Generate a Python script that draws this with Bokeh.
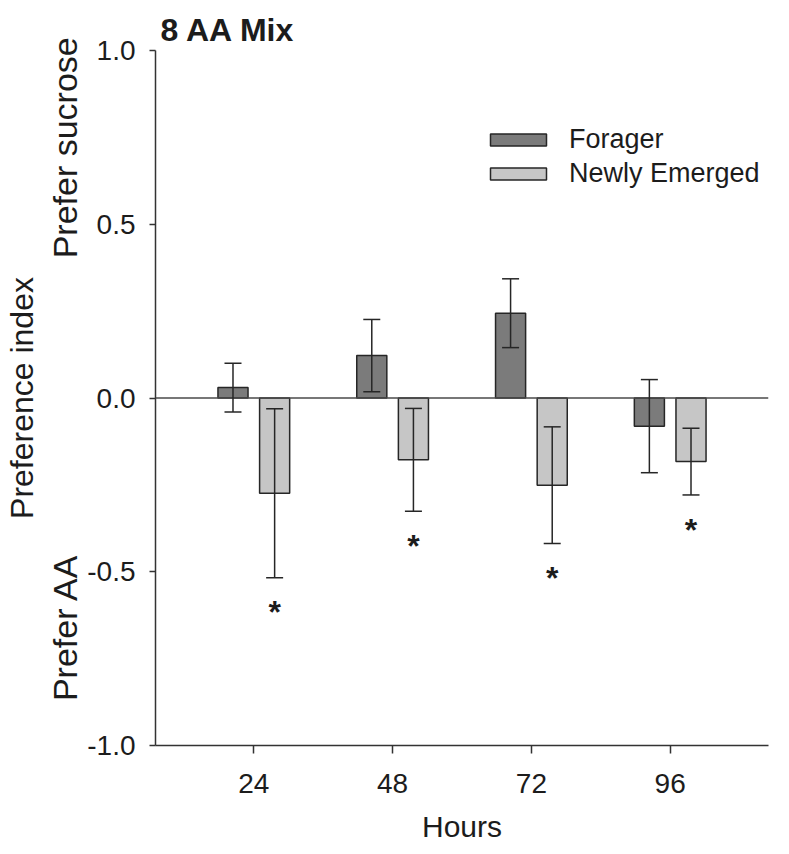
from bokeh.embed import file_html
from bokeh.models import (ColumnDataSource, FixedTicker, Legend, LegendItem, LinearAxis,
                          Range1d, Span, TeeHead, Whisker)
from bokeh.core.properties import value
from bokeh.plotting import figure
from bokeh.resources import INLINE

# Preference index per time point (mean +/- SE)
hours = [24, 48, 72, 96]
forager_mean = [0.03, 0.122, 0.244, -0.081]
forager_se = [0.07, 0.104, 0.099, 0.134]
newly_mean = [-0.274, -0.178, -0.251, -0.183]
newly_se = [0.243, 0.148, 0.168, 0.096]
newly_significant = [True, True, True, True]

y_ticks = [-1.0, -0.5, 0.0, 0.5, 1.0]
y_tick_labels = ["-1.0", "-0.5", "0.0", "0.5", "1.0"]

# side captions for the two ends of the preference scale
side_caption_pos = [0.72, -0.66]
side_captions = ["Prefer sucrose", "Prefer AA"]

FONT = "Liberation Sans"
TEXT = "#1c1c1c"
AXIS = "#333333"
BAR_W = 5.2
DODGE = 3.6

def series_source(means, ses, shift):
    return ColumnDataSource(dict(
        x=[h + shift for h in hours],
        top=means,
        upper=[m + s for m, s in zip(means, ses)],
        lower=[m - s for m, s in zip(means, ses)],
    ))

src_f = series_source(forager_mean, forager_se, -DODGE)
src_n = series_source(newly_mean, newly_se, DODGE)

p = figure(width=789, height=854, output_backend="svg", toolbar_location=None,
           title="8 AA Mix",
           x_range=Range1d(7, 113), y_range=Range1d(-1.0, 1.0),
           min_border_left=155, min_border_right=21, min_border_top=50,
           min_border_bottom=109)
p.frame_width = 613
p.frame_height = 695
p.outline_line_color = None
p.background_fill_color = "white"
p.xgrid.visible = False
p.ygrid.visible = False

p.title.align = "left"
p.title.offset = 5
p.title.standoff = 6
p.title.text_font = FONT
p.title.text_font_size = "32px"
p.title.text_font_style = "bold"
p.title.text_color = TEXT

# zero reference line
p.add_layout(Span(location=0, dimension="width", line_color="#4a4a4a", line_width=1.5))

r_f = p.vbar(x="x", top="top", bottom=0, width=BAR_W, source=src_f,
             fill_color="#7b7b7b", line_color="#262626", line_width=1.5)
r_n = p.vbar(x="x", top="top", bottom=0, width=BAR_W, source=src_n,
             fill_color="#c6c6c6", line_color="#262626", line_width=1.5)

for src in (src_f, src_n):
    p.add_layout(Whisker(
        base="x", upper="upper", lower="lower", source=src, dimension="height",
        line_color="#262626", line_width=1.5, level="overlay",
        upper_head=TeeHead(size=17, line_color="#262626", line_width=1.5),
        lower_head=TeeHead(size=17, line_color="#262626", line_width=1.5)))

# significance markers under the newly emerged bars
star_x = [h + DODGE for h, s in zip(hours, newly_significant) if s]
star_y = [m - s - 0.1 for m, s, sig in zip(newly_mean, newly_se, newly_significant) if sig]
p.text(x=star_x, y=star_y, text=["*"] * len(star_x), text_font=value(FONT),
       text_font_size="32px", text_font_style="bold", text_color=TEXT,
       text_align="center", text_baseline="middle")

# axes
p.yaxis.ticker = FixedTicker(ticks=y_ticks)
p.yaxis.major_label_overrides = {t: l for t, l in zip(y_ticks, y_tick_labels)}
p.xaxis.ticker = FixedTicker(ticks=hours)
p.xaxis.major_label_overrides = {h: str(h) for h in hours}
for ax in (p.xaxis[0], p.yaxis[0]):
    ax.axis_line_color = AXIS
    ax.axis_line_width = 1.5
    ax.major_tick_line_color = AXIS
    ax.major_tick_line_width = 1.5
    ax.major_tick_in = 0
    ax.minor_tick_line_color = None
    ax.major_label_text_font = FONT
    ax.major_label_text_font_size = "28px"
    ax.major_label_text_color = TEXT
p.yaxis.major_tick_out = 6
p.yaxis.major_label_standoff = 14
p.xaxis.major_tick_out = 8
p.xaxis.major_label_standoff = 20
p.xaxis.axis_label = "Hours"
p.xaxis.axis_label_text_font = FONT
p.xaxis.axis_label_text_font_size = "30px"
p.xaxis.axis_label_text_font_style = "normal"
p.xaxis.axis_label_text_color = TEXT
p.xaxis.axis_label_standoff = 14

# outer left axis carrying the scale-end captions and the axis title
caption_axis = LinearAxis(
    ticker=FixedTicker(ticks=side_caption_pos),
    major_label_overrides=dict(zip(side_caption_pos, side_captions)),
    major_label_orientation="parallel",
    axis_line_color=None, major_tick_line_color=None, minor_tick_line_color=None,
    major_tick_in=0, major_tick_out=0, major_label_standoff=0,
    major_label_text_font=FONT, major_label_text_font_size="34px",
    major_label_text_color=TEXT,
    axis_label="Preference index", axis_label_standoff=4,
    axis_label_text_font=FONT, axis_label_text_font_size="32px",
    axis_label_text_font_style="normal", axis_label_text_color=TEXT)
p.add_layout(caption_axis, "left")

legend = Legend(items=[LegendItem(label="Forager", renderers=[r_f]),
                       LegendItem(label="Newly Emerged", renderers=[r_n])],
                location=(328, 556), glyph_width=70, glyph_height=15,
                label_standoff=16, spacing=3, padding=0, margin=0,
                border_line_alpha=0, background_fill_alpha=0,
                label_text_font=FONT, label_text_font_size="27px",
                label_text_color=TEXT)
p.add_layout(legend)

open("out.html", "w").write(file_html(p, INLINE))
